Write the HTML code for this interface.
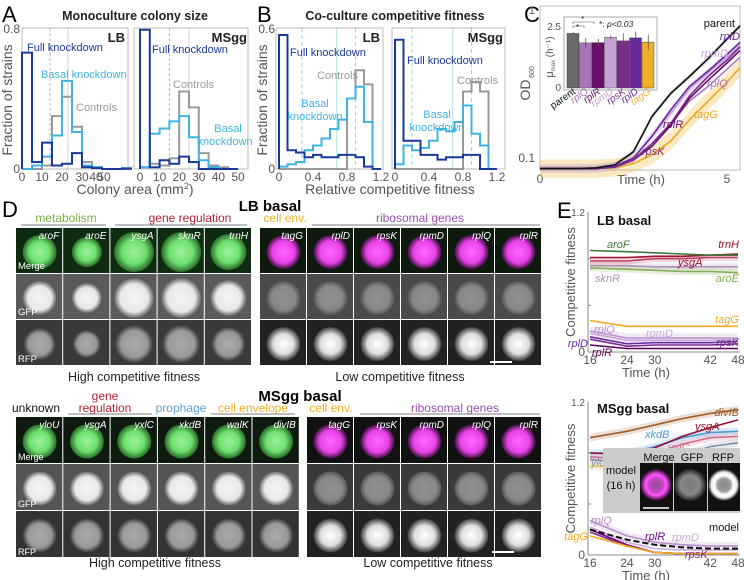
<!DOCTYPE html>
<html><head><meta charset="utf-8"><style>
html,body{margin:0;padding:0;background:#fff;}
svg{display:block;font-family:"Liberation Sans",sans-serif;}
</style></head><body>
<svg id="fig" width="744" height="580" viewBox="0 0 744 580" xmlns="http://www.w3.org/2000/svg">
<defs>
<radialGradient id="gGreen"><stop offset="0" stop-color="#9ef09e"/><stop offset="0.6" stop-color="#6ee06e"/><stop offset="1" stop-color="#2a6a2a"/></radialGradient>
<radialGradient id="gMag"><stop offset="0" stop-color="#ff66ff"/><stop offset="0.65" stop-color="#e844e8"/><stop offset="1" stop-color="#401040"/></radialGradient>
<radialGradient id="gWhite"><stop offset="0" stop-color="#f4f4f4"/><stop offset="0.7" stop-color="#e8e8e8"/><stop offset="1" stop-color="#666"/></radialGradient>
<radialGradient id="gMid"><stop offset="0" stop-color="#909090"/><stop offset="0.7" stop-color="#888"/><stop offset="1" stop-color="#555"/></radialGradient>
<radialGradient id="gGrayR"><stop offset="0" stop-color="#aaa"/><stop offset="0.7" stop-color="#999"/><stop offset="1" stop-color="#3a3a3a"/></radialGradient>
<radialGradient id="gBright"><stop offset="0" stop-color="#fff"/><stop offset="0.6" stop-color="#ddd"/><stop offset="1" stop-color="#3a3a3a"/></radialGradient>
<radialGradient id="gRing"><stop offset="0" stop-color="#888"/><stop offset="0.4" stop-color="#999"/><stop offset="0.6" stop-color="#fff"/><stop offset="0.8" stop-color="#eee"/><stop offset="1" stop-color="#111"/></radialGradient>
<radialGradient id="gRingM"><stop offset="0" stop-color="#885588"/><stop offset="0.45" stop-color="#cc44cc"/><stop offset="0.65" stop-color="#ff55ff"/><stop offset="1" stop-color="#220822"/></radialGradient>
<radialGradient id="gRingG"><stop offset="0" stop-color="#777"/><stop offset="0.6" stop-color="#888"/><stop offset="1" stop-color="#222"/></radialGradient>
</defs>
<g id="root"></g>
</svg>
<script>
// ---------- Panel A data ----------
const aBins = [0,5,10,15,20,25,30,35,40,45,50];
const aLBfull = [0.66,0.04,0.15,0.02,0.03,0.09,0.01,0.005,0,0,0.002];
const aLBbasal = [0,0.02,0.07,0.19,0.5,0.21,0.02,0.01,0,0,0.005];
const aLBctrl = [0,0,0.02,0.3,0.41,0.24,0.04,0.01,0,0,0];
const aMSfull = [0.79,0.01,0.05,0.03,0.07,0.04,0,0,0,0];
const aMSbasal = [0.01,0.2,0.23,0.27,0.3,0.18,0.05,0.01,0,0];
const aMSctrl = [0.01,0.03,0.02,0.06,0.44,0.35,0.09,0.02,0.01,0];
const aTicksLB = [0,10,20,30,37,41];
const aTickLabelsLB = ["0","10","20","30","40","50"];
const aTicksMS = [0,10,20,30,40,50];
// ---------- Panel B data ----------
const bBins = [0,0.1,0.2,0.3,0.4,0.5,0.6,0.7,0.8,0.9,1.0,1.1];
const bLBfull = [0.57,0.08,0.07,0.05,0.06,0.05,0.05,0.06,0.06,0.05,0.01,0];
const bLBbasal = [0.01,0.02,0.03,0.08,0.1,0.13,0.17,0.21,0.3,0.35,0.2,0];
const bLBctrl = [0,0,0,0,0,0,0,0,0.3,0.42,0.36,0.0];
const bMSfull = [0.55,0.12,0.12,0.06,0.06,0.04,0.05,0.05,0.06,0.06,0,0];
const bMSbasal = [0.02,0.1,0.08,0.09,0.12,0.17,0.16,0.2,0.27,0.15,0.1,0];
const bMSctrl = [0,0,0,0,0,0,0,0,0.33,0.37,0.33,0];
const bTicks = [0,0.4,0.8,1.2];
// ---------- Panel C data ----------
const cTimes = [0,0.5,1,1.5,2,2.5,3,3.5,4,4.5,5,5.35];
const cParent = [0.085,0.085,0.085,0.086,0.09,0.11,0.19,0.27,0.35,0.46,0.62,0.76];
const cRplD = [0.085,0.085,0.085,0.085,0.088,0.1,0.14,0.21,0.3,0.38,0.49,0.59];
const cRpmD = [0.085,0.085,0.085,0.085,0.088,0.1,0.14,0.2,0.29,0.37,0.47,0.56];
const cRpsK = [0.085,0.085,0.085,0.085,0.087,0.097,0.125,0.17,0.26,0.35,0.45,0.55];
const cRplR = [0.085,0.085,0.085,0.085,0.087,0.097,0.12,0.165,0.25,0.33,0.43,0.52];
const cRplQ = [0.085,0.085,0.085,0.085,0.088,0.098,0.125,0.17,0.24,0.3,0.39,0.47];
const cTagG = [0.085,0.085,0.085,0.085,0.086,0.092,0.105,0.13,0.18,0.24,0.32,0.4];
const cBarNames = ["parent","rplQ","rplR","rpmD","rpsK","rplD","tagG"];
const cBarValues = [2.2,1.82,1.83,2.05,1.9,2.02,1.85];
const cBarErr = [0.06,0.2,0.15,0.08,0.3,0.25,0.3];
// ---------- Panel E data ----------
const eTimes = [16,24,30,36,42,48];
const eLB_aroF = [0.87,0.86,0.85,0.84,0.83,0.83];
const eLB_trnH = [0.81,0.81,0.82,0.82,0.83,0.84];
const eLB_ysgA = [0.78,0.78,0.8,0.8,0.81,0.81];
const eLB_sknR = [0.74,0.74,0.73,0.73,0.73,0.73];
const eLB_aroE = [0.72,0.71,0.7,0.69,0.69,0.68];
const eLB_tagG = [0.27,0.22,0.22,0.22,0.22,0.22];
const eLB_rplQ = [0.18,0.12,0.12,0.12,0.12,0.12];
const eLB_rpmD = [0.16,0.1,0.1,0.1,0.1,0.11];
const eLB_rplD = [0.13,0.07,0.08,0.08,0.08,0.09];
const eLB_rpsK = [0.11,0.05,0.06,0.06,0.06,0.07];
const eLB_rplR = [0.06,0.03,0.03,0.03,0.03,0.03];
const eMS_divIB = [0.92,0.97,1.02,1.07,1.11,1.14];
const eMS_ysgA = [0.8,0.79,0.84,0.93,1.0,1.06];
const eMS_xkdB = [0.8,0.8,0.85,0.92,0.96,0.97];
const eMS_yxlC = [0.77,0.75,0.8,0.87,0.92,0.93];
const eMS_yloU = [0.75,0.72,0.72,0.78,0.85,0.88];
const eMS_walK = [0.7,0.68,0.7,0.72,0.74,0.75];
const eMS_rplQ = [0.27,0.15,0.1,0.08,0.07,0.07];
const eMS_rpmD = [0.22,0.1,0.05,0.04,0.04,0.04];
const eMS_rplR = [0.2,0.08,0.02,0.01,0.01,0.01];
const eMS_rpsK = [0.18,0.07,0.02,0.01,0.01,0.01];
const eMS_tagG = [0.15,0.07,0.02,0.01,0.01,0.01];
const eMS_model = [0.2,0.12,0.08,0.06,0.05,0.05];
const eTicks = [16,24,30,42,48];

const NS="http://www.w3.org/2000/svg";
const root=document.getElementById('root');
function el(tag,attrs,parent,text){const e=document.createElementNS(NS,tag);for(const k in attrs)e.setAttribute(k,attrs[k]);if(text!==undefined)e.textContent=text;(parent||root).appendChild(e);return e;}
function txt(x,y,s,size,fill,opts,parent){const o=Object.assign({x:x,y:y,'font-size':size,fill:fill||'#000'},opts||{});const t=el('text',o,parent,s);return t;}
function lin(d0,d1,r0,r1){return v=>r0+(v-d0)*(r1-r0)/(d1-d0);}

function histPanel(name,x0,x1,y0,y1,xs,ys,bins,bw,series,ticks,tickLabels,vlines){
  const g=el('g',{},root);
  
  
  el('rect',{x:x0,y:y1,width:x1-x0,height:y0-y1,fill:'none',stroke:'#bbb','stroke-width':1},g);
  vlines.forEach(v=>{el('line',{x1:xs(v[0]),x2:xs(v[0]),y1:y1,y2:y0,stroke:v[1],'stroke-width':0.8,'stroke-dasharray':v[2]||''},g);});
  series.forEach(s=>{
    let d='M'+xs(bins[0])+','+ys(0);
    for(let i=0;i<bins.length;i++){const yy=ys(s.vals[i]||0);d+=' L'+xs(bins[i])+','+yy+' L'+xs(bins[i]+bw)+','+yy;}
    const p=el('path',{d:d,fill:'none',stroke:s.color,'stroke-width':2},g);
    
    
  });
  ticks.forEach((t,i)=>{txt(xs(t),y0+12,tickLabels[i],12,'#555',{'text-anchor':'middle'},g);});
  return g;
}
// ----- Panel A -----
txt(2,22,'A',22,'#000');
txt(135,20,'Monoculture colony size',12.5,'#222',{'text-anchor':'middle','font-weight':'bold'});
{
  const ys=lin(0,0.8,169,28);
  const xsL=lin(0,53,22,128);
  histPanel('hist-a-lb',22,128,169,28,xsL,ys,aBins,5,[
    {vals:aLBctrl,color:'#999',name:'controls-lb'},
    {vals:aLBbasal,color:'#3fb4e0',name:'basal-knockdown-lb'},
    {vals:aLBfull,color:'#1a3a9a',name:'full-knockdown-lb'}],aTicksLB,aTickLabelsLB,[[14,'#aaa','3,2'],[23,'#ccc']]);
  const xsM=lin(0,50,140,238);
  histPanel('hist-a-msgg',134,248,169,28,xsM,ys,aBins.slice(0,10),5,[
    {vals:aMSctrl,color:'#999',name:'controls-msgg'},
    {vals:aMSbasal,color:'#3fb4e0',name:'basal-knockdown-msgg'},
    {vals:aMSfull,color:'#1a3a9a',name:'full-knockdown-msgg'}],aTicksMS,aTicksMS.map(String),[[15,'#aaa','3,2'],[25,'#ccc']]);
  txt(20,33,'0.8',12,'#555',{'text-anchor':'end'});
  txt(20,173,'0',12,'#555',{'text-anchor':'end'});
  txt(12,100,'Fraction of strains',14,'#555',{'text-anchor':'middle',transform:'rotate(-90 12 100)'});
  txt(125,42,'LB',13,'#222',{'text-anchor':'end','font-weight':'bold'});
  txt(247,42,'MSgg',13,'#222',{'text-anchor':'end','font-weight':'bold'});
  txt(27,51,'Full knockdown',11,'#1a3a9a');
  txt(152,53,'Full knockdown',11,'#1a3a9a');
  txt(41,78,'Basal knockdown',11,'#3fb4e0');
  txt(76,111,'Controls',11,'#999');
  txt(173,88,'Controls',11,'#999');
  txt(228,132,'Basal',11,'#3fb4e0',{'text-anchor':'middle'});
  txt(225,145,'knockdown',11,'#3fb4e0',{'text-anchor':'middle'});
  const t=txt(135,194,'Colony area (mm',14,'#555',{'text-anchor':'middle'});
  const s=el('tspan',{'font-size':9,dy:-5},t,'2');
  el('tspan',{'font-size':14,dy:5},t,')');
}
// ----- Panel B -----
txt(257,22,'B',22,'#000');
txt(395,20,'Co-culture competitive fitness',12.5,'#222',{'text-anchor':'middle','font-weight':'bold'});
{
  const ys=lin(0,0.6,169,28);
  const xsL=lin(0,1.2,279,381);
  histPanel('hist-b-lb',276,383,169,28,xsL,ys,bBins,0.1,[
    {vals:bLBctrl,color:'#999',name:'controls-lb'},
    {vals:bLBbasal,color:'#3fb4e0',name:'basal-knockdown-lb'},
    {vals:bLBfull,color:'#1a3a9a',name:'full-knockdown-lb'}],bTicks,['0','0.4','0.8','1.2'],[[0.27,'#7ccbe8','4,3'],[0.68,'#9dd'],[0.9,'#7ccbe8','4,3']]);
  const xsM=lin(0,1.2,395,497);
  histPanel('hist-b-msgg',392,505,169,28,xsM,ys,bBins,0.1,[
    {vals:bMSctrl,color:'#999',name:'controls-msgg'},
    {vals:bMSbasal,color:'#3fb4e0',name:'basal-knockdown-msgg'},
    {vals:bMSfull,color:'#1a3a9a',name:'full-knockdown-msgg'}],bTicks,['0','0.4','0.8','1.2'],[[0.2,'#7ccbe8','4,3'],[0.68,'#9dd'],[0.9,'#7ccbe8','4,3']]);
  txt(275,33,'0.6',12,'#555',{'text-anchor':'end'});
  txt(275,173,'0',12,'#555',{'text-anchor':'end'});
  txt(267,100,'Fraction of strains',14,'#555',{'text-anchor':'middle',transform:'rotate(-90 267 100)'});
  txt(380,42,'LB',13,'#222',{'text-anchor':'end','font-weight':'bold'});
  txt(503,42,'MSgg',13,'#222',{'text-anchor':'end','font-weight':'bold'});
  txt(290,56,'Full knockdown',11,'#1a3a9a');
  txt(407,64,'Full knockdown',11,'#1a3a9a');
  txt(317,79,'Controls',11,'#999');
  txt(457,84,'Controls',11,'#999');
  txt(315,107,'Basal',11,'#3fb4e0',{'text-anchor':'middle'});
  txt(315,120,'knockdown',11,'#3fb4e0',{'text-anchor':'middle'});
  txt(437,118,'Basal',11,'#3fb4e0',{'text-anchor':'middle'});
  txt(437,131,'knockdown',11,'#3fb4e0',{'text-anchor':'middle'});
  txt(390,194,'Relative competitive fitness',14,'#555',{'text-anchor':'middle'});
}
// ----- Panel C -----
txt(524,22,'C',22,'#000');
{
  const g=el('g',{},root);
  
  
  const xs=lin(0,5.35,540,740);
  const ys=v=>158-150*Math.log10(v/0.1);
  el('rect',{x:540,y:6,width:200,height:164,fill:'none',stroke:'#bbb'},g);
  txt(535,14,'1',11,'#555',{'text-anchor':'end'},g);
  txt(535,162,'0.1',12,'#555',{'text-anchor':'end'},g);
  txt(540,183,'0',12,'#555',{'text-anchor':'middle'},g);
  txt(727,183,'5',12,'#555',{'text-anchor':'middle'},g);
  txt(641,184,'Time (h)',13,'#555',{'text-anchor':'middle'},g);
  txt(530,90,'OD',14,'#555',{'text-anchor':'middle',transform:'rotate(-90 530 90)'},g);
  txt(534,72,'600',7,'#555',{'text-anchor':'middle',transform:'rotate(-90 534 72)'},g);
  function band(vals,f,color,op){let d='';vals.forEach((v,i)=>{d+=(i?' L':'M')+xs(cTimes[i])+','+ys(v*f);});for(let i=vals.length-1;i>=0;i--)d+=' L'+xs(cTimes[i])+','+ys(vals[i]/f);el('path',{d:d+'Z',fill:color,opacity:op},g);}
  band(cTagG,1.15,'#f2c050',0.35);
  band(cRpmD,1.07,'#c8a0d8',0.35);
  band(cParent,1.04,'#999',0.3);
  const series=[['tagG',cTagG,'#e8a820'],['rplQ',cRplQ,'#a878c0'],['rpmD',cRpmD,'#c8a0d8'],['rplR',cRplR,'#6a0a6a'],['rpsK',cRpsK,'#7a2a8a'],['rplD',cRplD,'#6a2aa0'],['parent',cParent,'#111']];
  series.forEach(s=>{let d='';s[1].forEach((v,i)=>{d+=(i?' L':'M')+xs(cTimes[i])+','+ys(v);});const p=el('path',{d:d,fill:'none',stroke:s[2],'stroke-width':1.6},g);});
  txt(735,27,'parent',11,'#111',{'text-anchor':'end'},g);
  txt(740,40,'rplD',11,'#6a2aa0',{'text-anchor':'end','font-style':'italic'},g);
  txt(701,57,'rpmD',11,'#c8a0d8',{'font-style':'italic'},g);
  txt(707,87,'rplQ',11,'#a878c0',{'font-style':'italic'},g);
  txt(694,118,'tagG',11,'#e8a820',{'font-style':'italic'},g);
  txt(663,128,'rplR',11,'#6a0a6a',{'font-style':'italic'},g);
  txt(642,155,'rpsK',11,'#7a2a8a',{'font-style':'italic'},g);
  const ig=el('g',{},g);
  
  
  el('rect',{x:564,y:17,width:93,height:73,fill:'#fff',stroke:'#aaa'},ig);
  const iy=lin(0,2.5,88,26);
  const bw=12.5;
  const bx=i=>567+i*bw;
  const colors=['#6a6a6a','#a874b8','#6a0c6a','#c9a0d5','#7b2d8b','#6a2a9a','#f0b02a'];
  cBarValues.forEach((v,i)=>{
    const r=el('rect',{x:bx(i),y:iy(v),width:bw-0.5,height:88-iy(v),fill:colors[i],stroke:'#333','stroke-width':0.4},ig);
    
    
    el('line',{x1:bx(i)+bw/2,x2:bx(i)+bw/2,y1:iy(v+cBarErr[i]),y2:iy(v-cBarErr[i]),stroke:'#555','stroke-width':0.8},ig);
    txt(bx(i)+bw/2+3,93,cBarNames[i],10,colors[i]==='#6a6a6a'?'#111':colors[i],{'text-anchor':'end','font-style':i?'italic':'normal',transform:'rotate(-35 '+(bx(i)+bw/2+3)+' 93)'},ig);
  });
  txt(561,30,'2.5',10,'#555',{'text-anchor':'end'},ig);
  txt(561,91,'0',10,'#555',{'text-anchor':'end'},ig);
  const mu=txt(553,57,'μ',11,'#555',{'text-anchor':'middle',transform:'rotate(-90 553 57)'},ig);
  el('tspan',{'font-size':6,dy:2},mu,'max');
  el('tspan',{'font-size':10,dy:-2},mu,' (h⁻¹)');
  el('path',{d:'M573,24 L573,22 L594,22 L594,24 M573,28 L573,26 L584,26 L584,28',fill:'none',stroke:'#555','stroke-width':0.6},ig);
  txt(581,22,'*',8,'#222',{},ig);txt(576,30,'*',8,'#222',{},ig);
  txt(599,27,'*: ',8.5,'#222',{},ig);
  txt(607,27,'p<0.03',8.5,'#222',{'font-style':'italic'},ig);
}
// ----- Panel D -----
txt(2,217,'D',22,'#000');
function tileRow(group,x0,y,w,h,fillBg,grad,labels){
  for(let i=0;i<labels.length;i++){
    const x=x0+i*w;
    el('rect',{x:x,y:y,width:w-1,height:h-1,fill:fillBg},group);
    el('circle',{cx:x+w/2,cy:y+h/2+1,r:Array.isArray(grad)?grad[i][1]:17,fill:'url(#'+(Array.isArray(grad)?grad[i][0]:grad)+')'},group);
    if(labels[i]) txt(x+w-4,y+11,labels[i],10,'#fff',{'text-anchor':'end','font-style':'italic'},group);
  }
}
function tileBlock(name,x0,ys,w,hs,n,specs,labels){
  const g=el('g',{},root);
  
  
  el('rect',{x:x0-1,y:ys[0]-1,width:w*n+1,height:hs*3+1,fill:'#fff'},g);
  tileRow(g,x0,ys[0],w,hs,specs[0][0],specs[0][1],labels);
  tileRow(g,x0,ys[1],w,hs,specs[1][0],specs[1][1],labels.map(()=>''));
  tileRow(g,x0,ys[2],w,hs,specs[2][0],specs[2][1],labels.map(()=>''));
  return g;
}
{
  const hiLB=['aroF','aroE','ysgA','sknR','trnH'];
  const g1=tileBlock('lb-high-tiles',16,[228,274,320],47.2,46,5,[
    ['#0e2a10',[['gGreen',17],['gGreen',15],['gGreen',20],['gGreen',20],['gGreen',18]]],
    ['#5a5a5a',[['gWhite',17],['gWhite',15],['gWhite',20],['gWhite',20],['gWhite',18]]],
    ['#3a3a3a',[['gGrayR',16],['gGrayR',14],['gGrayR',19],['gGrayR',19],['gGrayR',17]]]],hiLB);
  txt(18,269,'Merge',9.5,'#fff',{},g1);txt(18,315,'GFP',9.5,'#fff',{},g1);txt(18,362,'RFP',9.5,'#fff',{},g1);
  const loLB=['tagG','rplD','rpsK','rpmD','rplQ','rplR'];
  tileBlock('lb-low-tiles',260,[228,274,320],47,46,6,[
    ['#0e1a0e','gMag'],['#4a4a4a','gMid'],['#222','gBright']],loLB);
  el('line',{x1:490,x2:512,y1:362,y2:362,stroke:'#fff','stroke-width':2});
  txt(270,211,'LB basal',15,'#000',{'text-anchor':'middle','font-weight':'bold'});
  const cat=[[66,'metabolism','#7ab040',21,106],[190,'gene regulation','#b0203a',115,247],[285,'cell env.','#f0b020',0,0],[420,'ribosomal genes','#9a50b0',312,540]];
  cat.forEach(c=>{txt(c[0],222,c[1],12,c[2],{'text-anchor':'middle'});if(c[4])el('line',{x1:c[3],x2:c[4],y1:225,y2:225,stroke:'#555','stroke-width':0.8});});
  txt(134,381,'High competitive fitness',12.5,'#222',{'text-anchor':'middle'});
  txt(400,381,'Low competitive fitness',12.5,'#222',{'text-anchor':'middle'});

  const hiMS=['yloU','ysgA','yxlC','xkdB','walK','divIB'];
  const g2=tileBlock('msgg-high-tiles',16,[417,464,511],47.3,47,6,[
    ['#0e1a0e','gGreen'],['#555','gWhite'],['#333','gGrayR']],hiMS);
  txt(18,460,'Merge',9,'#fff',{},g2);txt(18,507,'GFP',9,'#fff',{},g2);txt(18,555,'RFP',9,'#fff',{},g2);
  const loMS=['tagG','rpsK','rpmD','rplQ','rplR'];
  tileBlock('msgg-low-tiles',307,[417,464,511],47,47,5,[
    ['#111','gMag'],['#3a3a3a','gMid'],['#222','gBright']],loMS);
  el('line',{x1:492,x2:514,y1:552,y2:552,stroke:'#fff','stroke-width':2});
  txt(300,401,'MSgg basal',15,'#000',{'text-anchor':'middle','font-weight':'bold'});
  txt(36,412,'unknown',12,'#111',{'text-anchor':'middle'});
  txt(105,400,'gene',12,'#b0203a',{'text-anchor':'middle'});
  txt(105,412,'regulation',12,'#b0203a',{'text-anchor':'middle'});
  el('line',{x1:68,x2:152,y1:414,y2:414,stroke:'#555','stroke-width':0.8});
  txt(181,412,'prophage',12,'#60a0d0',{'text-anchor':'middle'});
  txt(253,412,'cell envelope',12,'#f0b020',{'text-anchor':'middle'});
  el('line',{x1:211,x2:295,y1:414,y2:414,stroke:'#555','stroke-width':0.8});
  txt(331,412,'cell env.',12,'#f0b020',{'text-anchor':'middle'});
  txt(455,412,'ribosomal genes',12,'#9a50b0',{'text-anchor':'middle'});
  el('line',{x1:360,x2:540,y1:414,y2:414,stroke:'#555','stroke-width':0.8});
  txt(155,567,'High competitive fitness',12.5,'#222',{'text-anchor':'middle'});
  txt(428,567,'Low competitive fitness',12.5,'#222',{'text-anchor':'middle'});
}
// ----- Panel E -----
txt(557,218,'E',22,'#000');
function ePanel(name,y0,y1,series,labels){
  const g=el('g',{},root);
  
  
  const xs=lin(16,48,590,738), ys=lin(0,1.2,y0,y1);
  el('line',{x1:588,x2:588,y1:y1,y2:y0,stroke:'#888'},g);
  el('line',{x1:588,x2:740,y1:y0,y2:y0,stroke:'#888'},g);
  [0.4,0.8].forEach(v=>el('line',{x1:588,x2:591,y1:ys(v),y2:ys(v),stroke:'#888'},g));
  txt(585,y1+4,'1.2',10,'#555',{'text-anchor':'end'},g);
  txt(585,y0+4,'0',12,'#555',{'text-anchor':'end'},g);
  eTicks.forEach(t=>txt(xs(t),y0+12,String(t),12,'#555',{'text-anchor':'middle'},g));
  txt(646,y0+25,'Time (h)',13,'#555',{'text-anchor':'middle'},g);
  const my=(y0+y1)/2;
  txt(575,my,'Competitive fitness',13,'#555',{'text-anchor':'middle',transform:'rotate(-90 575 '+my+')'},g);
  series.forEach(s=>{
    let d='';
    s.v.forEach((v,i)=>{d+=(i?' L':'M')+xs(eTimes[i])+','+ys(v);});
    if(s.band){let u='';s.v.forEach((v,i)=>{u+=(i?' L':'M')+xs(eTimes[i])+','+ys(v+s.band);});for(let i=s.v.length-1;i>=0;i--)u+=' L'+xs(eTimes[i])+','+ys(s.v[i]-s.band);el('path',{d:u+'Z',fill:s.c,opacity:0.2},g);}
    const p=el('path',{d:d,fill:'none',stroke:s.c,'stroke-width':s.w||1.6,'stroke-dasharray':s.dash||''},g);
    
    
  });
  labels.forEach(l=>txt(l[0],l[1],l[2],11,l[3],{'font-style':l[4]===false?'normal':'italic','text-anchor':l[5]||'start'},g));
  return g;
}
ePanel('competitive-fitness-lb',352,212,[
  {n:'aroE',v:eLB_aroE,c:'#80b050',band:0.03},{n:'sknR',v:eLB_sknR,c:'#b090b0',band:0.03},{n:'ysgA',v:eLB_ysgA,c:'#c04060',band:0.03},
  {n:'trnH',v:eLB_trnH,c:'#a01030'},{n:'aroF',v:eLB_aroF,c:'#3a7a3a'},{n:'tagG',v:eLB_tagG,c:'#f0a820'},
  {n:'rplQ',v:eLB_rplQ,c:'#b890c8',band:0.04},{n:'rpmD',v:eLB_rpmD,c:'#c8a8d8'},{n:'rplD',v:eLB_rplD,c:'#6a2aa0'},
  {n:'rpsK',v:eLB_rpsK,c:'#7a2a8a'},{n:'rplR',v:eLB_rplR,c:'#5a005a'}],
  [[607,248,'aroF','#3a7a3a'],[739,248,'trnH','#a01030',true,'end'],[678,266,'ysgA','#a01030'],[595,282,'sknR','#b090b0'],[739,282,'aroE','#80b050',true,'end'],
   [739,323,'tagG','#f0a820',true,'end'],[594,333,'rplQ','#b890c8'],[646,337,'rpmD','#c8a8d8'],[588,347,'rplD','#6a2aa0',true,'end'],[739,346,'rpsK','#7a2a8a',true,'end'],[592,356,'rplR','#5a005a']]);
txt(597,225,'LB basal',13,'#111',{'font-weight':'bold'});
ePanel('competitive-fitness-msgg',555,402,[
  {n:'walK',v:eMS_walK,c:'#f0c060',band:0.03},{n:'yloU',v:eMS_yloU,c:'#8090a8',band:0.03},{n:'yxlC',v:eMS_yxlC,c:'#d07090',band:0.03},
  {n:'xkdB',v:eMS_xkdB,c:'#5098d0',band:0.03},{n:'ysgA',v:eMS_ysgA,c:'#901030'},{n:'divIB',v:eMS_divIB,c:'#a06030',band:0.03},
  {n:'rplQ',v:eMS_rplQ,c:'#b890c8',band:0.03},{n:'rpmD',v:eMS_rpmD,c:'#c8a8d8'},{n:'rplR',v:eMS_rplR,c:'#6a0a7a'},
  {n:'rpsK',v:eMS_rpsK,c:'#7a2a8a'},{n:'tagG',v:eMS_tagG,c:'#f0a820'},{n:'model',v:eMS_model,c:'#111',w:2,dash:'6,3'}],
  [[739,416,'divIB','#a06030',true,'end'],[695,430,'ysgA','#901030'],[645,438,'xkdB','#5098d0'],[668,451,'yxlC','#d07090'],[591,466,'yloU','#8090a8'],[739,466,'walK','#f0c060',true,'end'],
   [591,524,'rplQ','#b890c8'],[645,540,'rplR','#6a0a7a'],[672,541,'rpmD','#c8a8d8'],[588,540,'tagG','#f0a820',true,'end'],[685,558,'rpsK','#7a2a8a'],[739,531,'model','#111',false,'end']]);
txt(597,413,'MSgg basal',13,'#111',{'font-weight':'bold'});
{
  const g=el('g',{},root);
  
  
  el('rect',{x:603,y:448,width:137,height:65,fill:'#ccc'},g);
  txt(621,474,'model',11,'#111',{'text-anchor':'middle'},g);
  txt(621,489,'(16 h)',11,'#111',{'text-anchor':'middle'},g);
  txt(659,461,'Merge',11,'#111',{'text-anchor':'middle'},g);
  txt(692,461,'GFP',11,'#111',{'text-anchor':'middle'},g);
  txt(723,461,'RFP',11,'#111',{'text-anchor':'middle'},g);
  el('rect',{x:640,y:463,width:33,height:48,fill:'#111'},g);
  el('circle',{cx:656,cy:485,r:16,fill:'url(#gRingM)'},g);
  el('line',{x1:643,x2:669,y1:508,y2:508,stroke:'#fff','stroke-width':1.5},g);
  el('rect',{x:674,y:463,width:33,height:48,fill:'#111'},g);
  el('circle',{cx:690,cy:485,r:16,fill:'url(#gRingG)'},g);
  el('rect',{x:708,y:463,width:32,height:48,fill:'#111'},g);
  el('circle',{cx:724,cy:485,r:16,fill:'url(#gRing)'},g);
}
</script>
</body></html>
